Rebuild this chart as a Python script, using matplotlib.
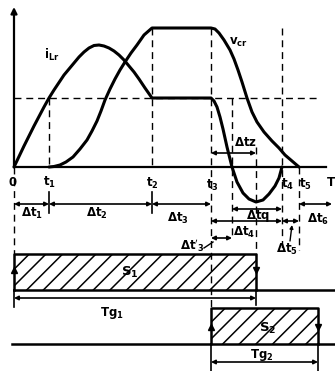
import numpy as np
import matplotlib
matplotlib.use('Agg')
import matplotlib.pyplot as plt

plt.rcParams['mathtext.fontset'] = 'dejavusans'
plt.rcParams['mathtext.default'] = 'bf'
plt.rcParams['hatch.linewidth'] = 1.1

# time instants (origin at 0)
t0, t1, t2, t3 = 0, 35, 138, 197
tz, tm, t4, t5 = 218, 242, 268, 285
t_s2_off = 304
t_end = 318

# levels
i_level = 69      # dashed level / i_Lr plateau
v_level = 139     # v_cr plateau

# i_Lr samples
i_t = [0, 10, 20, 30, 35, 40, 50, 60, 65, 70, 75, 80, 85, 90, 95, 100, 105,
       110, 115, 120, 125, 131, 138,
       197, 200, 203, 206, 209, 213, 218, 223, 229, 235, 242, 249, 255, 261, 265, 268]
i_v = [0, 21, 41, 60, 69, 77, 92, 104, 110, 115, 119, 121.5, 122, 121, 119, 116, 112,
       107, 101, 95, 88, 79, 69,
       69, 66, 60, 50, 38, 20, 0, -15, -26, -32, -35, -33, -27, -19, -11, 0]

# v_cr samples
v_t = [35, 40, 46, 52, 59, 66, 73, 78, 83, 87, 91, 96, 101, 106, 111, 117, 123, 130, 138,
       197, 201, 205, 210, 216, 220, 224, 228, 233, 238, 243, 250, 258, 265, 271, 278, 285]
v_v = [0, 0.5, 2, 5, 10, 18, 27, 36, 46, 56, 67, 78, 88, 97, 105, 114, 122, 132, 139,
       139, 138, 134, 127, 117, 108, 97, 85, 69, 55, 45, 35, 26, 19, 12, 6, 0]

# gate signals (on, off)
s1 = (t0, tm)
s2 = (t3, t_s2_off)

# lower rows (vertical layout)
y_row1, y_rowq, y_row2, y_row3 = -37, -42, -54, -71
y_dz = 14
s1_top, s1_bot = -87, -123
s2_top, s2_bot = -141, -177
y_tg1, y_tg2 = -131, -195

fig = plt.figure(figsize=(3.35, 3.71), dpi=100)
ax = fig.add_axes([0, 0, 1, 1])
ax.set_xlim(-14, 321)
ax.set_ylim(-204, 167)
ax.axis('off')

k = 'black'
fs = 8.5

# axes
ax.plot([0, 312], [0, 0], color=k, lw=1.6)
ax.annotate('', xy=(0, 160), xytext=(0, 0),
            arrowprops=dict(arrowstyle='-|>', color=k, lw=1.6, mutation_scale=9,
                            shrinkA=0, shrinkB=0))

# curves
ax.plot(i_t, i_v, color=k, lw=2.2, solid_capstyle='round', solid_joinstyle='round')
ax.plot(v_t, v_v, color=k, lw=2.2, solid_capstyle='round', solid_joinstyle='round')

# dashed guides
dash = dict(color=k, lw=1.0, ls=(0, (5, 3.5)))
ax.plot([0, 304], [i_level, i_level], **dash)
ax.plot([t1, t1], [i_level, 0], **dash)
ax.plot([t2, t2], [v_level, 0], **dash)
ax.plot([t3, t3], [v_level, s2_top], **dash)
ax.plot([tz, tz], [i_level, y_row3], **dash)
ax.plot([tm, tm], [20, s1_top], **dash)
ax.plot([t4, t4], [v_level, -83], **dash)
ax.plot([t5, t5], [0, -83], **dash)
ax.plot([0, 0], [0, s1_top], **dash)

# ticks on first interval row
for t in (t1, t2):
    ax.plot([t, t], [-25, -46], color=k, lw=1.2)

def dim(a, b, y, style='<|-|>'):
    ax.annotate('', xy=(b, y), xytext=(a, y),
                arrowprops=dict(arrowstyle=style, color=k, lw=1.2, mutation_scale=6,
                                shrinkA=0, shrinkB=0))

dim(t0, t1, y_row1)
dim(t1, t2, y_row1)
dim(t2, t3, y_row1)
dim(t5, t_end, y_row1)
dim(tz, t4, y_rowq)
dim(t3, t4, y_row2)
dim(t4, t5, y_row2)
dim(t3, tz, y_row3)
dim(t3, tm, y_dz)
dim(s1[0], s1[1], y_tg1)
dim(s2[0], s2[1], y_tg2)
ax.annotate('', xy=(278, -58), xytext=(276, -74),
            arrowprops=dict(arrowstyle='-|>', color=k, lw=1.0, mutation_scale=5,
                            shrinkA=0, shrinkB=0))
ax.plot([190, 199], [-81, -75], color=k, lw=1.0)

# gate signals
ax.fill_between([s1[0], s1[1]], s1_bot, s1_top, facecolor='white', edgecolor=k,
                hatch='//', lw=0)
ax.plot([s1[0], s1[0], s1[1], s1[1], 321], [s1_bot, s1_top, s1_top, s1_bot, s1_bot],
        color=k, lw=1.8)
ax.plot([s1[0], s1[1]], [s1_bot, s1_bot], color=k, lw=1.8)
ax.plot([s1[0], s1[0]], [s1_bot, -140], color=k, lw=1.2)
ax.plot([s1[1], s1[1]], [s1_bot, -138], color=k, lw=1.2)

ax.fill_between([s2[0], s2[1]], s2_bot, s2_top, facecolor='white', edgecolor=k,
                hatch='//', lw=0)
ax.plot([-2, s2[0], s2[0], s2[1], s2[1], 321],
        [s2_bot, s2_bot, s2_top, s2_top, s2_bot, s2_bot], color=k, lw=1.8)
ax.plot([s2[0], s2[1]], [s2_bot, s2_bot], color=k, lw=1.8)
ax.plot([s2[0], s2[0]], [s2_bot, -204], color=k, lw=1.2)
ax.plot([s2[1], s2[1]], [s2_bot, -204], color=k, lw=1.2)

# edge markers
ax.plot([s1[0]], [-103], marker='^', color=k, ms=5)
ax.plot([s1[1]], [-103], marker='v', color=k, ms=5)
ax.plot([s2[0]], [-160], marker='^', color=k, ms=5)
ax.plot([s2[1]], [-160], marker='v', color=k, ms=5)

# labels
def lab(x, y, s, size=fs):
    ax.text(x, y, s, ha='center', va='center', fontsize=size, fontweight='bold')

lab(38, 112, r'$i_{Lr}$')
lab(224, 125, r'$v_{cr}$')
lab(-1, -15, '0')
lab(t1, -15, r'$t_1$')
lab(t2, -16, r'$t_2$')
lab(t3 + 1, -18, r'$t_3$')
lab(274, -17, r'$t_4$')
lab(291, -17, r'$t_5$')
lab(317, -15, 'T')
lab(18, -46, r'$\Delta t_1$')
lab(83, -46, r'$\Delta t_2$')
lab(164, -51, r'$\Delta t_3$')
lab(304, -52, r'$\Delta t_6$')
lab(244, -49, r'$\Delta tq$')
lab(230, -65, r'$\Delta t_4$')
lab(273, -82, r'$\Delta t_5$')
lab(178, -79, r"$\Delta t'_3$")
lab(231, 25, r'$\Delta tz$')
lab(116, -105, r'$S_1$', 9.5)
lab(254, -161, r'$S_2$', 9.5)
lab(98, -146, r'$Tg_1$')
lab(248, -188, r'$Tg_2$')

fig.savefig('out.png', dpi=100)
